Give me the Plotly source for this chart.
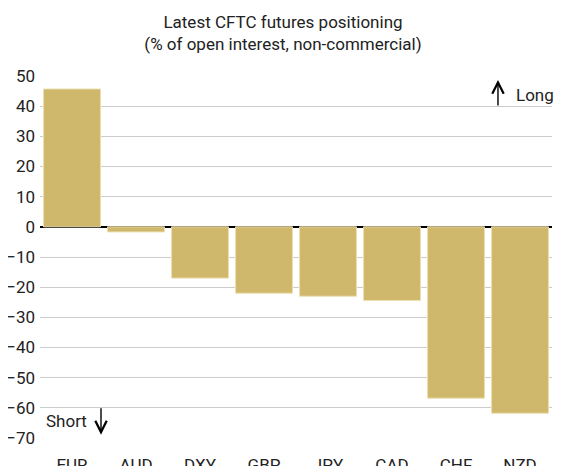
import plotly.graph_objects as go

categories = ["EUR", "AUD", "DXY", "GBP", "JPY", "CAD", "CHF", "NZD"]
positioning = [45.7, -1.7, -17.0, -22.0, -23.0, -24.4, -56.8, -61.8]
y_ticks = [50, 40, 30, 20, 10, 0, -10, -20, -30, -40, -50, -60, -70]

FONT = "Roboto"

fig = go.Figure()
fig.add_trace(go.Bar(
    x=categories, y=positioning,
    marker=dict(color="#CFB86B", line=dict(color="#EBE0B2", width=1)),
    width=0.89,
))

fig.update_layout(
    width=567, height=466,
    margin=dict(l=32, r=23, t=68, b=36, autoexpand=False),
    paper_bgcolor="white", plot_bgcolor="white",
    showlegend=False,
    font=dict(family=FONT, size=17, color="#222222"),
    title=dict(
        text="Latest CFTC futures positioning<br>(% of open interest, non-commercial)",
        x=(283 - 8) / 567, xref="container", xanchor="center",
        y=1 - 20 / 466, yref="container", yanchor="middle",
        font=dict(family=FONT, size=17, color="#222222"),
        automargin=False,
    ),
    xaxis=dict(showgrid=False, showline=False, ticks="", tickfont=dict(size=17),
               ticklabelstandoff=15, automargin=False),
    yaxis=dict(range=[-70, 50], tickvals=y_ticks, showgrid=True, gridcolor="#cccccc",
               gridwidth=1, zeroline=True, zerolinecolor="black", zerolinewidth=2,
               tickfont=dict(size=17), ticklabelstandoff=4, automargin=False),
    annotations=[
        dict(xref="paper", yref="y", x=0.8945, y=48.7, ax=0, ay=27, text="",
             showarrow=True, arrowhead=5, arrowsize=1.6, arrowwidth=1.4, arrowcolor="black"),
        dict(xref="paper", yref="y", x=0.926, y=43.8, text="Long", showarrow=False,
             xanchor="left", yanchor="middle", font=dict(size=17, color="#222222")),
        dict(xref="paper", yref="y", x=(101 - 40) / 512, y=-68.9, ax=0, ay=-28, text="",
             showarrow=True, arrowhead=5, arrowsize=1.6, arrowwidth=1.4, arrowcolor="black"),
        dict(xref="paper", yref="y", x=(44 - 40) / 512, y=-64.3, text="Short", showarrow=False,
             xanchor="left", yanchor="middle", font=dict(size=17, color="#222222")),
    ],
)

fig.write_html("out.html")
